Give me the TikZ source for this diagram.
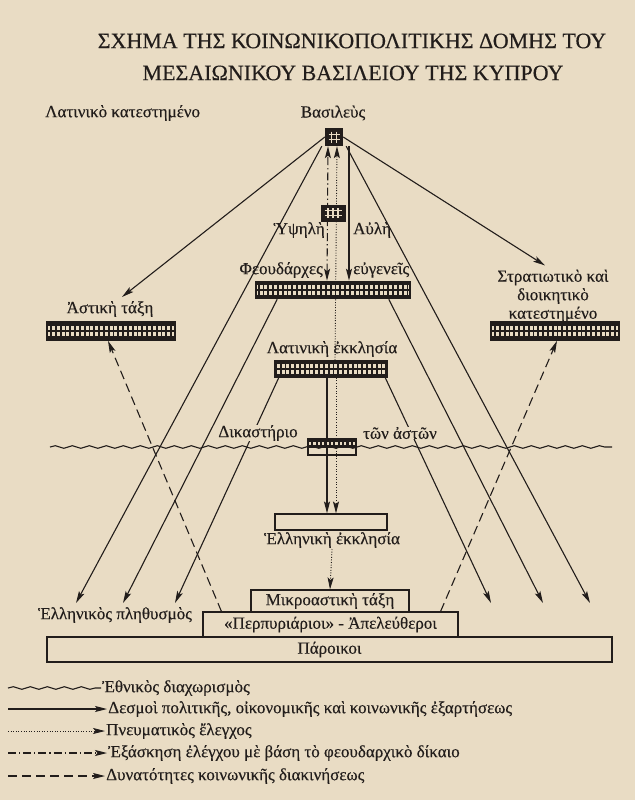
\documentclass[tikz,border=0pt]{standalone}
\usepackage{fontspec}
\setmainfont{Liberation Serif}[FakeBold=0.35]
\usepackage{tikz}
\usetikzlibrary{arrows.meta,decorations.pathmorphing}
\pgfdeclarelayer{back}
\pgfsetlayers{back,main}
\definecolor{paper}{RGB}{233,220,196}
\definecolor{ink}{RGB}{34,29,27}
\tikzstyle{lbl} = [font=\fontsize{17}{18.5}\selectfont, text=ink, inner sep=1pt]
\tikzstyle{ttl} = [font=\fontsize{22}{26}\selectfont, text=ink]
\tikzstyle{arrow} = [draw=ink, line width=1.1pt, -{Stealth[length=12pt,width=6pt,inset=2.5pt]}]
\tikzstyle{spirit} = [arrow, line width=0.9pt, dash pattern=on 1pt off 1.6pt]
\tikzstyle{feud} = [arrow, dash pattern=on 8pt off 3pt on 1.2pt off 3pt]
\tikzstyle{mobil} = [arrow, dash pattern=on 9pt off 5pt]
\tikzstyle{wave} = [draw=ink, line width=1.1pt, decorate, decoration={snake, amplitude=1.3pt, segment length=17pt}]
\tikzstyle{plainbox} = [rectangle, draw=ink, line width=1.1pt, inner sep=0pt]
\tikzstyle{gridbox} = [rectangle, draw=ink, line width=1.6pt, fill=ink, minimum height=17pt, inner sep=0pt,
  path picture={\foreach \i in {-17,...,17} \foreach \j in {-5.1,0.9}
    \fill[paper] ([shift={(\i*4.8-1.5,\j)}]path picture bounding box.center) rectangle ++(3,4.2);}]
\tikzstyle{kingbox} = [rectangle, fill=ink, inner sep=0pt, minimum size=18pt,
  path picture={\foreach \i in {-2.6,2.6} {
    \draw[paper, line width=1.6pt] ([shift={(\i,-5.5)}]path picture bounding box.center) -- ++(0,11);
    \draw[paper, line width=1.6pt] ([shift={(-5.5,\i)}]path picture bounding box.center) -- ++(11,0);}}]
\tikzstyle{aulebox} = [rectangle, fill=ink, inner sep=0pt, minimum width=25pt, minimum height=17pt,
  path picture={\foreach \i in {-5,0,5}
    \draw[paper, line width=1.5pt] ([shift={(\i,-5)}]path picture bounding box.center) -- ++(0,10);
    \foreach \i in {-2.4,2.4}
    \draw[paper, line width=1.5pt] ([shift={(-8.5,\i)}]path picture bounding box.center) -- ++(17,0);}]
\tikzstyle{courtbox} = [rectangle, draw=ink, line width=1.3pt, minimum width=48pt, minimum height=16pt, inner sep=0pt,
  path picture={\fill[ink] ([yshift=-1pt]path picture bounding box.west) rectangle (path picture bounding box.north east);
    \foreach \i in {-5,...,5}
    \fill[paper] ([shift={(\i*4.4-1.1,-5.5)}]path picture bounding box.center) rectangle ++(2.2,3);}]

\begin{document}
\begin{tikzpicture}[x=1pt,y=-1pt]
\begin{pgfonlayer}{back}
\fill[paper] (0,0) rectangle (635,800);
\end{pgfonlayer}
\useasboundingbox (0,0) rectangle (635,800);

\node (title) [ttl] at (352,41) {ΣΧΗΜΑ ΤΗΣ ΚΟΙΝΩΝΙΚΟΠΟΛΙΤΙΚΗΣ ΔΟΜΗΣ ΤΟΥ};
\node (title2) [ttl] at (353,73) {ΜΕΣΑΙΩΝΙΚΟΥ ΒΑΣΙΛΕΙΟΥ ΤΗΣ ΚΥΠΡΟΥ};
\node (latest) [lbl, anchor=west] at (44,113) {Λατινικὸ κατεστημένο};

% the crown and the court round it
\node (kingtxt) [lbl] at (333,113) {Βασιλεὺς};
\node (king) [kingbox] at (334,137) {};
\node (aule) [aulebox] at (333,213) {};
\node (ypsili) [lbl, anchor=east] at (326,230) {Ὑψηλὴ};
\node (avli) [lbl, anchor=west] at (352,230) {Αὐλὴ};
\node (feudtxt) [lbl, anchor=east] at (324,270) {Φεουδάρχες};
\node (nobtxt) [lbl, anchor=west] at (352,270) {εὐγενεῖς};
\node (feudal) [gridbox, minimum width=154pt] at (333,290) {};
\node (latintxt) [lbl] at (332,349) {Λατινικὴ ἐκκλησία};
\node (latin) [gridbox, minimum width=113pt, minimum height=16pt] at (331,369) {};

\node (asttxt) [lbl] at (110,309) {Ἀστικὴ τάξη};
\node (astiki) [gridbox, minimum width=128pt, minimum height=18pt] at (111,331) {};
\node (strattxt) [lbl, align=center] at (553,296) {Στρατιωτικὸ καὶ\\διοικητικὸ\\κατεστημένο};
\node (strat) [gridbox, minimum width=128pt, minimum height=18pt] at (555,331) {};

\coordinate (w1) at (50,447);
\coordinate (w2) at (612,447);
\node (diktxt) [lbl, fill=paper, inner ysep=0pt] at (258,433) {Δικαστήριο};
\node (asttxt2) [lbl, fill=paper, inner ysep=0pt] at (400,433) {τῶν ἀστῶν};
\node (dikast) [courtbox] at (332,447) {};

\node (ell) [plainbox, minimum width=112pt, minimum height=16pt] at (331,522) {};
\node (elltxt) [lbl] at (332,540) {Ἑλληνικὴ ἐκκλησία};
\node (poptxt) [lbl] at (115,615) {Ἑλληνικὸς πληθυσμὸς};
\node (mikro) [plainbox, lbl, inner sep=0pt, minimum width=158pt, minimum height=22pt] at (330,601) {Μικροαστικὴ τάξη};
\node (perp) [plainbox, lbl, inner sep=0pt, minimum width=255pt, minimum height=25pt] at (330.5,624.5) {«Περπυριάριοι» - Ἀπελεύθεροι};
\node (paroikoi) [plainbox, lbl, inner sep=0pt, minimum width=565pt, minimum height=25pt] at (329.5,649.5) {Πάροικοι};

\coordinate (t1) at (76,603);
\coordinate (t2) at (123,603);
\coordinate (t3) at (175,603);
\coordinate (t4) at (491,603);
\coordinate (t5) at (543,603);
\coordinate (t6) at (590,603);

% legend
\coordinate (l1) at (8,688);
\coordinate (l2) at (8,709);
\coordinate (l3) at (8,731);
\coordinate (l4) at (8,753);
\coordinate (l5) at (8,776);
\node (lg1) [lbl, anchor=west] at (101,688) {Ἐθνικὸς διαχωρισμὸς};
\node (lg2) [lbl, anchor=west] at (107,709) {Δεσμοὶ πολιτικῆς, οἰκονομικῆς καὶ κοινωνικῆς ἐξαρτήσεως};
\node (lg3) [lbl, anchor=west] at (105,731) {Πνευματικὸς ἔλεγχος};
\node (lg4) [lbl, anchor=west] at (107,753) {Ἐξάσκηση ἐλέγχου μὲ βάση τὸ φεουδαρχικὸ δίκαιο};
\node (lg5) [lbl, anchor=west] at (105,776) {Δυνατότητες κοινωνικῆς διακινήσεως};

\begin{pgfonlayer}{back}
\draw[wave] (w1) -- (w2);
\draw[arrow] (king.west) -- ([xshift=12pt,yshift=3pt]asttxt.north);
\draw[arrow] (king.east) -- ([xshift=-8pt,yshift=3pt]strattxt.north);
\draw[arrow] ([xshift=-3pt]king.south west) -- (t1);
\draw[arrow] ([xshift=3pt]king.south east) -- (t6);
\draw[arrow] ([xshift=22pt]feudal.south west) -- (t2);
\draw[arrow] ([xshift=-22pt]feudal.south east) -- (t5);
\draw[arrow] ([xshift=5pt]latin.south west) -- (t3);
\draw[arrow] ([xshift=-3pt]latin.south east) -- (t4);
\draw[feud, {Stealth[length=12pt,width=6pt,inset=2.5pt]}-{Stealth[length=12pt,width=6pt,inset=2.5pt]}] ([xshift=-6pt]feudal.north) -- ([xshift=-6pt]king.south);
\draw[spirit] ([xshift=4pt]latin.north) -- ([xshift=3pt]king.south);
\draw[arrow] ([xshift=15pt]king.south) -- ([xshift=16pt]feudal.north);
\draw[arrow] ([xshift=-4pt]latin.south) -- ([xshift=-4pt]ell.north);
\draw[spirit] ([xshift=5pt]latin.south) -- ([xshift=5pt]ell.north);
\draw[spirit] (elltxt.south) -- (mikro.north);
\draw[mobil] ([xshift=19pt]perp.north west) -- ([xshift=-3pt]astiki.south);
\draw[mobil] ([xshift=-18pt]perp.north east) -- ([xshift=2pt]strat.south);
\draw[wave] (l1) -- (lg1.west);
\draw[arrow] (l2) -- (lg2.west);
\draw[spirit] (l3) -- (lg3.west);
\draw[feud] (l4) -- (lg4.west);
\draw[mobil] (l5) -- (lg5.west);
\end{pgfonlayer}
\end{tikzpicture}
\end{document}
